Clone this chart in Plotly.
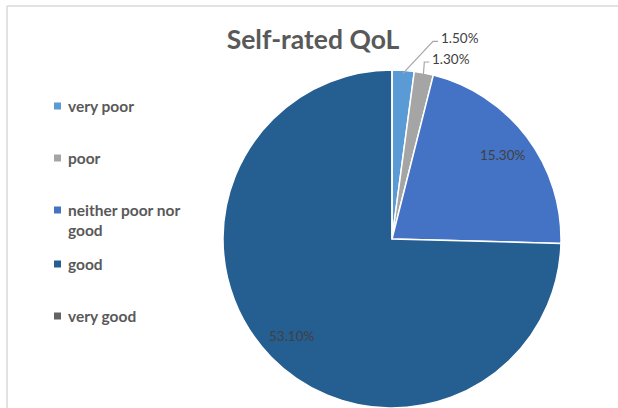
import math
import plotly.graph_objects as go

W, H = 618, 408

categories = ["very poor", "poor", "neither poor nor good", "good", "very good"]
legend_labels = ["very poor", "poor", "neither poor nor<br>good", "good", "very good"]
values = [1.5, 1.3, 15.3, 53.1, 0]
colors = ["#5B9BD5", "#A5A5A5", "#4472C4", "#255E91", "#636363"]
# label placement: "out" = callout with leader line, "in" = inside slice, None = no label
label_mode = ["out", "out", "in", "in", None]
# leader-line elbow offsets (pixels from slice edge) for callout labels
callout_offsets = [(30, -32), (1, -14), None, None, None]

FONT = "Lato"
LABEL_FONT = dict(family=FONT, size=13.5, color="#404040")

# pie geometry (pixels)
CX, CY, HALF = 392, 239, 169
R_EFF = 166


def px_x(x):
    return x / W


def px_y(y):
    return 1 - y / H


fig = go.Figure()
fig.add_trace(go.Pie(
    labels=categories,
    values=values,
    sort=False,
    direction="clockwise",
    rotation=0,
    marker=dict(colors=colors, line=dict(color="white", width=1.5)),
    textinfo="none",
    showlegend=False,
    hoverinfo="label+value",
    domain=dict(x=[(CX - HALF) / W, (CX + HALF) / W], y=[0, 2 * HALF / H]),
))

# data labels, positioned from each slice's mid angle
total = sum(values)
cum = 0.0
for v, mode, off in zip(values, label_mode, callout_offsets):
    mid = (cum + v / 2) / total * 2 * math.pi
    cum += v
    if mode is None or v == 0:
        continue
    txt = f"{v:.2f}%"
    if mode == "in":
        rr = 0.84 * R_EFF
        px, py = CX + rr * math.sin(mid), CY - rr * math.cos(mid)
        fig.add_annotation(xref="paper", yref="paper", x=px_x(px), y=px_y(py),
                           xanchor="center", yanchor="middle",
                           text=txt, showarrow=False, font=LABEL_FONT)
    else:
        px, py = CX + R_EFF * math.sin(mid), CY - R_EFF * math.cos(mid)
        ex, ey = px + off[0], py + off[1]
        fig.add_shape(type="path", xref="paper", yref="paper",
                      path=(f"M {px_x(px)} {px_y(py)} L {px_x(ex)} {px_y(ey)} "
                            f"L {px_x(ex + 5)} {px_y(ey)}"),
                      line=dict(color="#A6A6A6", width=1.2))
        fig.add_annotation(xref="paper", yref="paper", x=px_x(ex + 6), y=px_y(ey - 3),
                           xanchor="left", yanchor="middle",
                           text=txt, showarrow=False, font=LABEL_FONT)

# legend drawn as annotations
leg_y = [106, 158, 210, 264, 316]
LEG_FONT = dict(family=FONT, size=15.5, color="#595959", weight="bold")
for lab, col, y in zip(legend_labels, colors, leg_y):
    fig.add_shape(type="rect", xref="paper", yref="paper",
                  x0=px_x(54), x1=px_x(61), y0=px_y(y + 3.5), y1=px_y(y - 3.5),
                  fillcolor=col, line=dict(width=0))
    two = "<br>" in lab
    fig.add_annotation(
        xref="paper", yref="paper", x=px_x(66), y=px_y(y),
        xanchor="left", yanchor="top" if two else "middle",
        yshift=11 if two else 0,
        text=lab, showarrow=False, align="left",
        font=LEG_FONT,
    )

# chart-area border (top and left edge visible)
fig.add_shape(type="line", xref="paper", yref="paper",
              x0=px_x(7), x1=1, y0=px_y(6), y1=px_y(6),
              line=dict(color="#D9D9D9", width=1.5))
fig.add_shape(type="line", xref="paper", yref="paper",
              x0=px_x(7), x1=px_x(7), y0=0, y1=px_y(6),
              line=dict(color="#D9D9D9", width=1.5))

fig.update_layout(
    width=W, height=H,
    margin=dict(l=0, r=0, t=0, b=0),
    paper_bgcolor="white",
    plot_bgcolor="white",
    title=dict(text="<b>Self-rated QoL</b>", x=313 / W, xanchor="center",
               y=px_y(40), yanchor="middle",
               font=dict(family=FONT, size=26.5, color="#595959")),
)

fig.write_html("out.html")
